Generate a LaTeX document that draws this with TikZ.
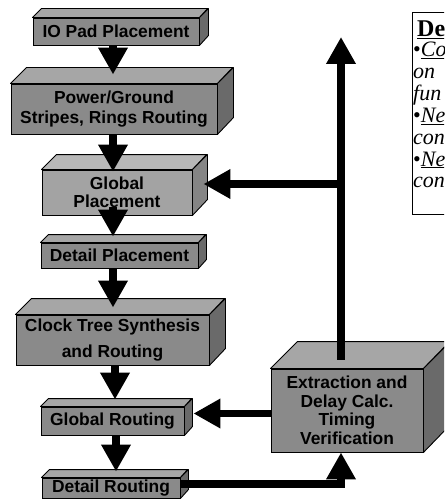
\documentclass[tikz,border=0pt]{standalone}
\usepackage{fontspec}
\setsansfont{Liberation Sans}
\setmainfont{Liberation Serif}
\usetikzlibrary{arrows.meta,calc}

% face colours of the solid blocks
\definecolor{dkfront}{HTML}{8A8A8A}
\definecolor{dktop}{HTML}{A6A6A6}
\definecolor{dkside}{HTML}{6A6A6A}
\definecolor{ltfront}{HTML}{A3A3A3}
\definecolor{lttop}{HTML}{B8B8B8}
\definecolor{ltside}{HTML}{858585}

\tikzset{
  blocktext/.style={font=\sffamily\bfseries\fontsize{17.4}{18.5}\selectfont, align=center,
                    inner sep=0pt, line width=0.9pt, draw=black},
  flowarrow/.style={line width=7.5pt, -{Triangle[width=28pt,length=27pt]}},
  defline/.style={anchor=base west, inner sep=0pt, font=\fontsize{22}{22}\selectfont},
}

% #1 name, #2 centre x, #3 centre y, #4 width, #5 height, #6 depth, #7 palette (dk/lt), #8 label
\newcommand{\solidblock}[8]{%
  \node[blocktext, fill=#7front, minimum width=#4pt, minimum height=#5pt] (#1) at (#2,#3) {#8};
  \filldraw[fill=#7top, line width=0.9pt, line join=round]
    (#1.north west) -- ++(#6,-#6) -- ++(#4,0) -- (#1.north east) -- cycle;
  \filldraw[fill=#7side, line width=0.9pt, line join=round]
    (#1.north east) -- ++(#6,-#6) -- ++(0,#5) -- (#1.south east) -- cycle;
}

\begin{document}
\begin{tikzpicture}[x=1pt,y=-1pt]
  \useasboundingbox (0,0) rectangle (444,500);
  \clip (0,0) rectangle (444,500);

  % main flow column
  \solidblock{io}{116}{31.5}{166}{27}{9}{dk}{IO Pad Placement}
  \solidblock{pg}{114}{109}{206}{50}{16}{dk}{Power/Ground\\[2pt]Stripes, Rings Routing}
  \solidblock{gp}{117}{192.5}{150}{45}{15}{lt}{Global\\Placement}
  \solidblock{dp}{119.5}{255.5}{157}{25}{8}{dk}{Detail Placement}
  \solidblock{ct}{112.5}{340}{193}{50}{16}{dk}{Clock Tree Synthesis\\[7pt]and Routing}
  \solidblock{gr}{112.5}{421}{143}{28}{8}{dk}{Global Routing}
  \solidblock{dr}{111}{488}{138}{20}{8}{dk}{Detail Routing}
  \solidblock{ex}{347}{410.5}{152}{83}{27}{dk}{Extraction and\\Delay Calc.\\Timing\\Verification}

  % definitions panel
  \node[draw=black, line width=1.2pt, anchor=north west, minimum width=60pt, minimum height=202pt,
        inner sep=0pt] (defs) at (411.5,12) {};
  \node[anchor=base west, inner sep=0pt, font=\bfseries\fontsize{24}{24}\selectfont]
    (defhead) at ([xshift=5.5pt,yshift=-25pt]defs.north west) {\underline{De}};
  \node[defline] (d1) at ([xshift=1.5pt,yshift=-45pt]defs.north west) {\textbullet\underline{\textit{Co}}};
  \node[defline] (d2) at ([yshift=-21.8pt]d1.base west) {\textit{on}};
  \node[defline] (d3) at ([yshift=-21.8pt]d2.base west) {\textit{fun}};
  \node[defline] (d4) at ([yshift=-21.8pt]d3.base west) {\textbullet\underline{\textit{Ne}}};
  \node[defline] (d5) at ([yshift=-21.8pt]d4.base west) {\textit{con}};
  \node[defline] (d6) at ([yshift=-21.8pt]d5.base west) {\textbullet\underline{\textit{Ne}}};
  \node[defline] (d7) at ([yshift=-21.8pt]d6.base west) {\textit{con}};

  % downward flow arrows
  \coordinate (col) at (113,0);
  \draw[flowarrow] (io.south -| col) -- ([yshift=9pt]pg.north -| col);
  \draw[flowarrow] (pg.south -| col) -- ([yshift=-2pt]gp.north -| col);
  \draw[flowarrow] ([yshift=8pt]gp.south -| col) -- ([yshift=6pt]dp.north -| col);
  \draw[flowarrow] (dp.south -| col) -- ([yshift=7pt]ct.north -| col);
  \coordinate (col2) at (115,0);
  \draw[flowarrow] (ct.south -| col2) -- ([yshift=7pt]gr.north -| col2);
  \coordinate (col3) at (116,0);
  \draw[flowarrow] (gr.south -| col3) -- ([yshift=6pt]dr.north -| col3);

  % feedback loop through extraction and timing
  \coordinate (up) at (341,0);
  \coordinate (uptip) at (341,37);
  \coordinate (branch) at (341,184);
  \coordinate (lowrun) at (0,484);
  \coordinate (midrun) at (0,413.5);
  \draw[flowarrow] (dr.east |- lowrun) -| ([xshift=-6pt]ex.south);
  \draw[flowarrow] (ex.west |- midrun) -- ([xshift=9pt]gr.east |- midrun);
  \draw[flowarrow] ([yshift=9pt]ex.north -| up) -- (uptip);
  \draw[flowarrow] (branch) -- ([xshift=11pt]gp.east |- branch);
\end{tikzpicture}
\end{document}
